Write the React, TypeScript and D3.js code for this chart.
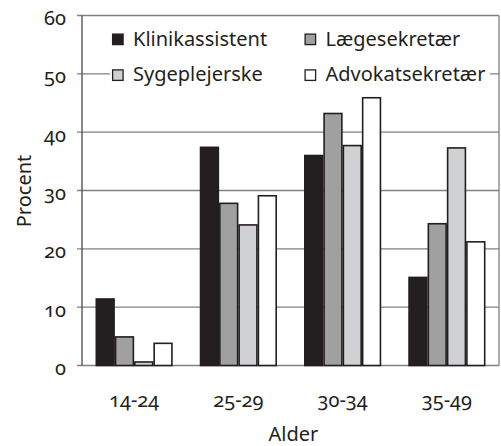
import React from "react";
import * as d3 from "d3";

const categories = ["14-24", "25-29", "30-34", "35-49"];
const seriesNames = ["Klinikassistent", "Lægesekretær", "Sygeplejerske", "Advokatsekretær"];
const klinikassistent = [11.4, 37.4, 36.0, 15.1];
const laegesekretaer = [4.9, 27.8, 43.2, 24.3];
const sygeplejerske = [0.6, 24.1, 37.7, 37.3];
const advokatsekretaer = [3.8, 29.1, 45.9, 21.2];
const yTicks = [0, 10, 20, 30, 40, 50, 60];
const colors = ["#231f20", "#a0a0a0", "#d0d1d3", "#ffffff"];

const seriesValues = [klinikassistent, laegesekretaer, sygeplejerske, advokatsekretaer];

const W = 501;
const H = 446;
const left = 82;
const right = 499;
const top = 15.5;
const bottom = 365.5;
const FONT = "'Noto Sans', 'Open Sans', sans-serif";
const ink = "#231f20";
const grid = "#808080";
const onum = { fontVariantNumeric: "oldstyle-nums" as const };

export default function App() {
  const x = d3.scaleBand<string>().domain(categories).range([left, right]).paddingInner(0.26).paddingOuter(0.13);
  const xi = d3.scaleBand<string>().domain(seriesNames).range([0, x.bandwidth()]).padding(0);
  const y = d3.scaleLinear().domain([0, 60]).range([bottom, top]);

  const legendItems = [
    { name: seriesNames[0], color: colors[0], lx: 112, ly: 33.5, by: 45.8 },
    { name: seriesNames[1], color: colors[1], lx: 304.5, ly: 33.5, by: 45.8 },
    { name: seriesNames[2], color: colors[2], lx: 112, ly: 69.3, by: 81.2 },
    { name: seriesNames[3], color: colors[3], lx: 304.5, ly: 69.3, by: 81.2 },
  ];

  return (
    <svg width={W} height={H} style={{ position: "absolute", left: 0, top: 0, fontFamily: FONT }}>
      <rect x={0} y={0} width={W} height={H} fill="#fff" />
      {/* gridlines */}
      {yTicks.map((t) => (
        <line key={"g" + t} x1={77} x2={right} y1={y(t)} y2={y(t)} stroke={grid} strokeWidth={1.3} />
      ))}
      {/* right border */}
      <line x1={right} x2={right} y1={top} y2={bottom} stroke={grid} strokeWidth={1.3} />
      {/* legend background */}
      <rect x={110} y={24} width={380} height={66} fill="#fff" />
      {legendItems.map((d) => (
        <g key={d.name}>
          <rect x={d.lx + 0.6} y={d.ly + 0.6} width={10.5} height={10.5} fill={d.color} stroke={ink} strokeWidth={1.3} />
          <text x={d.lx + 21} y={d.by} fontSize={20} fill={ink} style={onum}>
            {d.name}
          </text>
        </g>
      ))}
      {/* bars */}
      {categories.map((c, ci) => (
        <g key={c} transform={`translate(${x(c)},0)`}>
          {seriesNames.map((s, si) => {
            const v = seriesValues[si][ci];
            return (
              <rect
                key={s}
                x={(xi(s) as number) + 0.75}
                y={y(v)}
                width={xi.bandwidth() - 1.5}
                height={Math.max(0, y(0) - y(v))}
                fill={colors[si]}
                stroke={ink}
                strokeWidth={1.6}
              />
            );
          })}
        </g>
      ))}
      {/* left axis */}
      <line x1={left} x2={left} y1={top} y2={bottom} stroke="#555" strokeWidth={1.4} />
      {yTicks.map((t) => (
        <text key={"t" + t} x={66} y={y(t) + 9.6} textAnchor="end" fontSize={20} fill={ink} style={onum}>
          {t}
        </text>
      ))}
      {categories.map((c) => (
        <text key={"c" + c} x={(x(c) as number) + x.bandwidth() / 2} y={406.7} textAnchor="middle" fontSize={20} fill={ink} style={onum}>
          {c}
        </text>
      ))}
      <text x={293.4} y={440.5} textAnchor="middle" fontSize={20} fill={ink}>
        Alder
      </text>
      <text transform={`translate(23.5,191) rotate(-90)`} textAnchor="middle" dominantBaseline="central" fontSize={20} fill={ink}>
        Procent
      </text>
    </svg>
  );
}
